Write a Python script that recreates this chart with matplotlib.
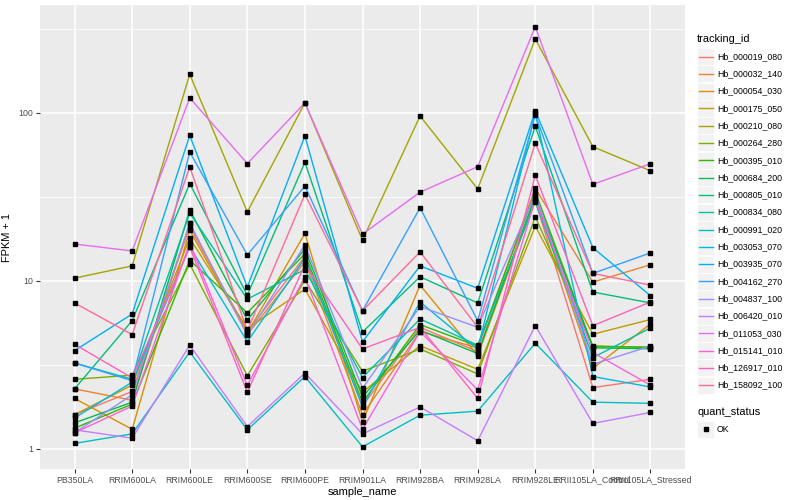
import numpy as np
import matplotlib
matplotlib.use("Agg")
import matplotlib.pyplot as plt
from matplotlib.patches import Rectangle
from matplotlib.lines import Line2D

plt.rcParams['font.family'] = ['Liberation Sans', 'DejaVu Sans']

samples = ["PB350LA", "RRIM600LA", "RRIM600LE", "RRIM600SE", "RRIM600PE",
           "RRIM901LA", "RRIM928BA", "RRIM928LA", "RRIM928LE",
           "RRII105LA_Control", "RRII105LA_Stressed"]

tracking_ids = ["Hb_000019_080", "Hb_000032_140", "Hb_000054_030", "Hb_000175_050",
                "Hb_000210_080", "Hb_000264_280", "Hb_000395_010", "Hb_000684_200",
                "Hb_000805_010", "Hb_000834_080", "Hb_000991_020", "Hb_003053_070",
                "Hb_003935_070", "Hb_004162_270", "Hb_004837_100", "Hb_006420_010",
                "Hb_011053_030", "Hb_015141_010", "Hb_126917_010", "Hb_158092_100"]

# FPKM + 1 per sample, one list per tracking id
hb_000019_080 = [1.6, 2.2, 21, 5.0, 14, 1.8, 5.3, 3.8, 30, 2.32, 2.6]
hb_000032_140 = [2.28, 1.95, 22, 4.8, 13, 1.6, 5.0, 4.0, 35.6, 9.85, 12.5]
hb_000054_030 = [2.0, 1.31, 20, 4.9, 19.2, 1.45, 9.45, 3.6, 31, 3.02, 5.55]
hb_000175_050 = [1.6, 2.4, 18, 5.2, 8.95, 2.18, 4.12, 2.98, 21.2, 4.82, 5.9]
hb_000210_080 = [10.4, 12.3, 170, 25.8, 115, 17.5, 96, 35.3, 276, 63, 45.3]
hb_000264_280 = [2.6, 2.75, 12.6, 2.73, 10.1, 2.9, 3.94, 2.8, 24.1, 4.12, 4.0]
hb_000395_010 = [1.33, 1.85, 13.3, 6.47, 14.5, 1.9, 5.5, 4.1, 34, 4.06, 4.05]
hb_000684_200 = [1.43, 1.9, 26.5, 5.86, 15.5, 2.04, 5.1, 3.7, 32, 4.0, 3.95]
hb_000805_010 = [2.28, 5.8, 38, 8.24, 50.9, 4.97, 10.6, 7.4, 83.5, 8.6, 7.4]
hb_000834_080 = [3.25, 2.6, 25.4, 7.8, 11.7, 2.66, 5.94, 4.15, 29.6, 3.5, 5.25]
hb_000991_020 = [1.08, 1.23, 3.78, 1.3, 2.7, 1.03, 1.59, 1.68, 4.26, 1.9, 1.87]
hb_003053_070 = [1.53, 2.5, 16, 4.35, 13.7, 1.78, 7.5, 3.9, 100, 2.7, 2.34]
hb_003935_070 = [3.85, 6.36, 73.6, 9.2, 73, 4.35, 12.3, 9.05, 103, 15.8, 8.17]
hb_004162_270 = [3.25, 2.55, 58.6, 14.3, 36.7, 6.65, 27.3, 5.8, 97.5, 11.1, 14.7]
hb_004837_100 = [1.25, 2.1, 22, 4.77, 16.4, 2.3, 7.05, 5.3, 33, 3.19, 4.1]
hb_006420_010 = [1.3, 1.16, 4.15, 1.36, 2.83, 1.23, 1.78, 1.12, 5.42, 1.42, 1.65]
hb_011053_030 = [16.6, 15.1, 123, 50, 115, 19, 33.8, 47.9, 326, 37.6, 49.9]
hb_015141_010 = [1.25, 1.8, 16.8, 2.39, 10.6, 1.31, 5.0, 2.25, 30.5, 3.75, 2.4]
hb_126917_010 = [4.2, 2.65, 15.9, 2.18, 12.5, 3.94, 5.3, 2.0, 42.6, 5.42, 7.5]
hb_158092_100 = [7.4, 4.8, 47.7, 5.06, 32.8, 6.65, 14.9, 5.3, 66, 11.1, 9.45]

series = [hb_000019_080, hb_000032_140, hb_000054_030, hb_000175_050, hb_000210_080,
          hb_000264_280, hb_000395_010, hb_000684_200, hb_000805_010, hb_000834_080,
          hb_000991_020, hb_003053_070, hb_003935_070, hb_004162_270, hb_004837_100,
          hb_006420_010, hb_011053_030, hb_015141_010, hb_126917_010, hb_158092_100]

y_ticks = [1, 10, 100]
y_tick_labels = ["1", "10", "100"]


def hcl2rgb(h, c=100.0, l=65.0):
    Xn, Yn, Zn = 95.047, 100.0, 108.883
    un = 4 * Xn / (Xn + 15 * Yn + 3 * Zn)
    vn = 9 * Yn / (Xn + 15 * Yn + 3 * Zn)
    hr = np.deg2rad(h)
    u, v = c * np.cos(hr), c * np.sin(hr)
    Y = Yn * ((l + 16) / 116) ** 3 if l > 8 else Yn * l / 903.3
    up = u / (13 * l) + un
    vp = v / (13 * l) + vn
    X = 9.0 * Y * up / (4 * vp)
    Z = -X / 3 - 5 * Y + 3 * Y / vp
    xyz = np.array([X, Y, Z]) / 100.0
    M = np.array([[3.240479, -1.537150, -0.498535],
                  [-0.969256, 1.875992, 0.041556],
                  [0.055648, -0.204043, 1.057311]])
    rgb = M @ xyz
    out = []
    for t in rgb:
        t = 12.92 * t if t <= 0.0031308 else 1.055 * t ** (1 / 2.4) - 0.055
        out.append(min(max(t, 0), 1))
    return tuple(out)


n = len(tracking_ids)
hues = np.linspace(15, 375, n + 1)[:n]
colors = [hcl2rgb(h % 360) for h in hues]

W, H = 800, 500
fig = plt.figure(figsize=(8, 5), dpi=100)
L, R, T, B = 40, 685, 5, 469
ax = fig.add_axes([L / W, 1 - B / H, (R - L) / W, (B - T) / H])
ax.set_facecolor("#EBEBEB")
for s in ax.spines.values():
    s.set_visible(False)

x = np.arange(len(samples))
for vals, col in zip(series, colors):
    ax.plot(x, vals, color=col, lw=1.0, zorder=3, solid_capstyle="butt")
for vals in series:
    ax.plot(x, vals, ls="none", marker="s", ms=2.2, color="black", zorder=4)

ax.set_yscale("log")
ax.set_ylim(10 ** (-20 / 168), 10 ** (444 / 168))
ax.set_xlim(-0.6, len(samples) - 0.4)
ax.set_yticks(y_ticks)
ax.set_yticklabels(y_tick_labels)
ax.yaxis.set_minor_locator(matplotlib.ticker.FixedLocator([10 ** 0.5, 10 ** 1.5, 10 ** 2.5]))
ax.yaxis.set_minor_formatter(matplotlib.ticker.NullFormatter())
ax.set_xticks(x)
ax.set_xticklabels(samples)
ax.grid(True, which="major", color="white", lw=1.1, zorder=0)
ax.grid(True, which="minor", axis="y", color="white", lw=0.55, zorder=0)
ax.set_axisbelow(True)
ax.tick_params(axis="both", which="major", length=2.75, width=0.8, color="#333333",
               labelcolor="#4D4D4D", labelsize=6.3, pad=2)
ax.tick_params(axis="y", which="minor", length=0)
ax.set_xlabel("sample_name", fontsize=7.9, color="black", labelpad=2)
ax.set_ylabel("FPKM + 1", fontsize=7.9, color="black")
ax.yaxis.set_label_coords((12 - L) / (R - L), 0.5)

# legends (drawn in figure pixel coordinates)
def fx(px):
    return px / W

def fy(py):
    return 1 - py / H

fig.text(fx(697), fy(39), "tracking_id", fontsize=7.9, va="center", ha="left")
y0, dy = 56.5, 17.3
for i, (tid, col) in enumerate(zip(tracking_ids, colors)):
    yc = y0 + i * dy
    fig.patches.append(Rectangle((fx(697), fy(yc + 8.5)), 17 / W, 17 / H,
                                 transform=fig.transFigure, facecolor="#F2F2F2",
                                 edgecolor="white", lw=0.5))
    fig.lines.append(Line2D([fx(698.5), fx(712.5)], [fy(yc), fy(yc)],
                            transform=fig.transFigure, color=col, lw=1.0))
    fig.text(fx(717), fy(yc), tid, fontsize=6.3, va="center", ha="left")

fig.text(fx(697), fy(412), "quant_status", fontsize=7.9, va="center", ha="left")
fig.patches.append(Rectangle((fx(697), fy(429 + 8.5)), 17 / W, 17 / H,
                             transform=fig.transFigure, facecolor="#F2F2F2",
                             edgecolor="white", lw=0.5))
fig.lines.append(Line2D([fx(705.5)], [fy(429)], transform=fig.transFigure,
                        marker="s", ms=2.2, color="black", ls="none"))
fig.text(fx(717), fy(429), "OK", fontsize=6.3, va="center", ha="left")

fig.savefig("out.png", dpi=100)
